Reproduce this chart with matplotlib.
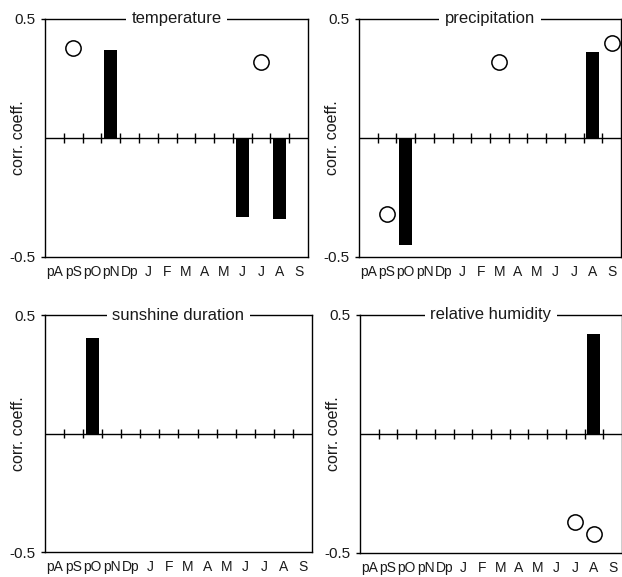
import matplotlib
matplotlib.use('Agg')
import matplotlib.pyplot as plt
import numpy as np

nan = np.nan

months = ['pA', 'pS', 'pO', 'pN', 'Dp', 'J', 'F', 'M', 'A', 'M', 'J', 'J', 'A', 'S']

titles = ['temperature', 'precipitation', 'sunshine duration', 'relative humidity']

# bar values (filled) and circle values (open), one entry per month
temp_bars = [nan, nan, nan, 0.37, nan, nan, nan, nan, nan, nan, -0.33, nan, -0.34, nan]
temp_dots = [nan, 0.38, nan, nan, nan, nan, nan, nan, nan, nan, nan, 0.32, nan, nan]

prec_bars = [nan, nan, -0.45, nan, nan, nan, nan, nan, nan, nan, nan, nan, 0.36, nan]
prec_dots = [nan, -0.32, nan, nan, nan, nan, nan, 0.32, nan, nan, nan, nan, nan, 0.40]

sun_bars = [nan, nan, 0.405, nan, nan, nan, nan, nan, nan, nan, nan, nan, nan, nan]
sun_dots = [nan] * 14

rh_bars = [nan, nan, nan, nan, nan, nan, nan, nan, nan, nan, nan, nan, 0.42, nan]
rh_dots = [nan, nan, nan, nan, nan, nan, nan, nan, nan, nan, nan, -0.37, -0.42, nan]

bars = [temp_bars, prec_bars, sun_bars, rh_bars]
dots = [temp_dots, prec_dots, sun_dots, rh_dots]

W, H = 622, 577
# axes boxes in pixels: left, right, top, bottom
boxes = [(45, 308, 19, 257), (359, 621, 19, 257),
         (45, 312, 315, 552), (360, 622, 315, 553)]

plt.rcParams['font.family'] = ['Liberation Sans', 'DejaVu Sans']

fig = plt.figure(figsize=(W / 100, H / 100), dpi=100)

x = np.arange(len(months))
for k in range(4):
    l, r, t, b = boxes[k]
    ax = fig.add_axes([l / W, 1 - b / H, (r - l) / W, (b - t) / H])
    ax.set_xlim(-0.5, len(months) - 0.5)
    ax.set_ylim(-0.5, 0.5)

    ax.bar(x, np.nan_to_num(np.array(bars[k]), nan=0.0), width=0.7, color='black', zorder=2)
    ax.plot(x, dots[k], 'o', ms=11, mfc='white', mec='black', mew=1.1,
            linestyle='none', zorder=3)

    ax.axhline(0, color='black', lw=1, zorder=1)
    ax.vlines(x[:-1] + 0.5, -0.019, 0.019, color='black', lw=1, zorder=1)

    ax.set_xticks(x)
    ax.set_xticklabels(months, fontsize=10, color='#1a1a1a')
    ax.tick_params(axis='x', length=0, pad=6)
    ax.set_yticks([-0.5, 0.5])
    ax.set_yticklabels(['-0.5', '0.5'], fontsize=11, color='#1a1a1a')
    ax.tick_params(axis='y', direction='out', length=3, width=1, pad=4)

    ax.set_ylabel('corr. coeff.', fontsize=11.5, color='#1a1a1a')
    ax.yaxis.set_label_coords(-0.072, 0.5)

    for s in ax.spines.values():
        s.set_linewidth(1)
        s.set_color('black')

    ax.text(0.5, 1.0, titles[k], transform=ax.transAxes, ha='center', va='center',
            fontsize=12, zorder=5, clip_on=False, color='#1a1a1a',
            bbox=dict(facecolor='white', edgecolor='none', pad=4))

fig.savefig('out.png', dpi=100)
